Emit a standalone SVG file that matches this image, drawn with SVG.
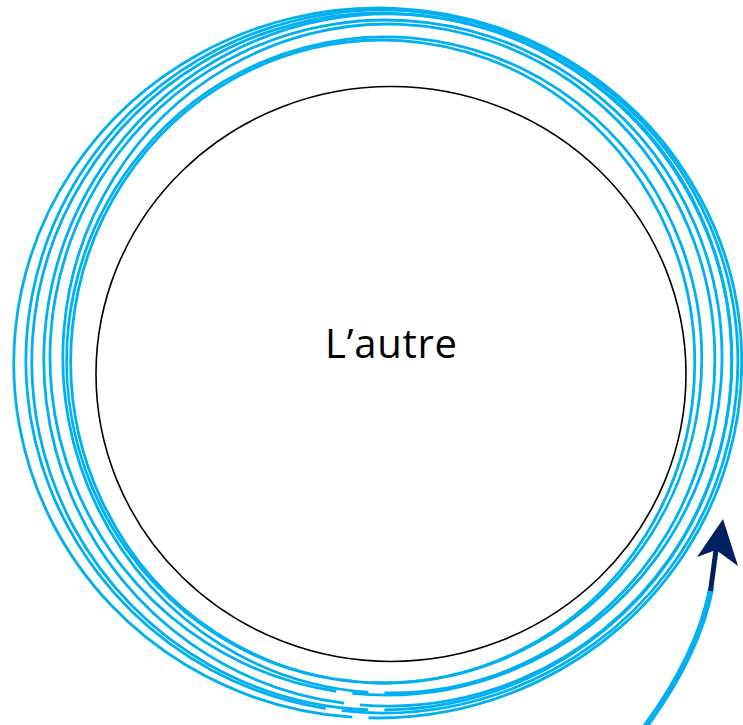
<svg xmlns="http://www.w3.org/2000/svg" width="743" height="725" viewBox="0 0 743 725">
<style>
.loop{fill:none;stroke:#00B0F0;stroke-width:2.8;stroke-linecap:butt}
.lbl{font-family:"Open Sans","Noto Sans","Liberation Sans",sans-serif;font-size:40px;fill:#000}
</style>
<rect width="743" height="725" fill="#fff"/>
<g id="autre">
<ellipse cx="391" cy="374" rx="295" ry="287.5" fill="none" stroke="#000" stroke-width="1.6"/>
<text class="lbl" x="391" y="358" text-anchor="middle" textLength="132" lengthAdjust="spacing">L’autre</text>
</g>
<g id="spiral">
<path class="loop" transform="rotate(-2 378 363)" d="M 356 717.35 A 364 355 0 1 0 340 716.07"/>
<path class="loop" transform="rotate(3 382 361.5)" d="M 360 712.33 A 356 351.5 0 1 0 344 711"/>
<path class="loop" transform="rotate(-4 382 361.5)" d="M 360 709.31 A 350 348.5 0 1 0 344 707.95"/>
<path class="loop" transform="rotate(2 386 357.5)" d="M 364 694.28 A 336 337.5 0 1 0 348 692.84"/>
<path class="loop" transform="rotate(-3 389 358.5)" d="M 367 692.24 A 326 334.5 0 1 0 351 690.73"/>
<path class="loop" transform="rotate(4 384.5 360)" d="M 362.5 682.22 A 317.5 323 0 1 0 346.5 680.69"/>
<path class="loop" transform="rotate(-2 383 361.5)" d="M 361 682.2 A 312 321.5 0 1 0 345 680.62"/>
<path class="loop" transform="rotate(1 388 360)" d="M 366 705.29 A 344 346 0 1 0 350 703.89"/>
</g>
<g id="arrow">
<path d="M 645 727 Q 698 655 711 589" fill="none" stroke="#00B0F0" stroke-width="6"/>
<path d="M 710.5 591 L 716 550" fill="none" stroke="#002060" stroke-width="5"/>
<polygon points="723,519 738,566 716,550 697,557" fill="#002060"/>
</g>
</svg>
